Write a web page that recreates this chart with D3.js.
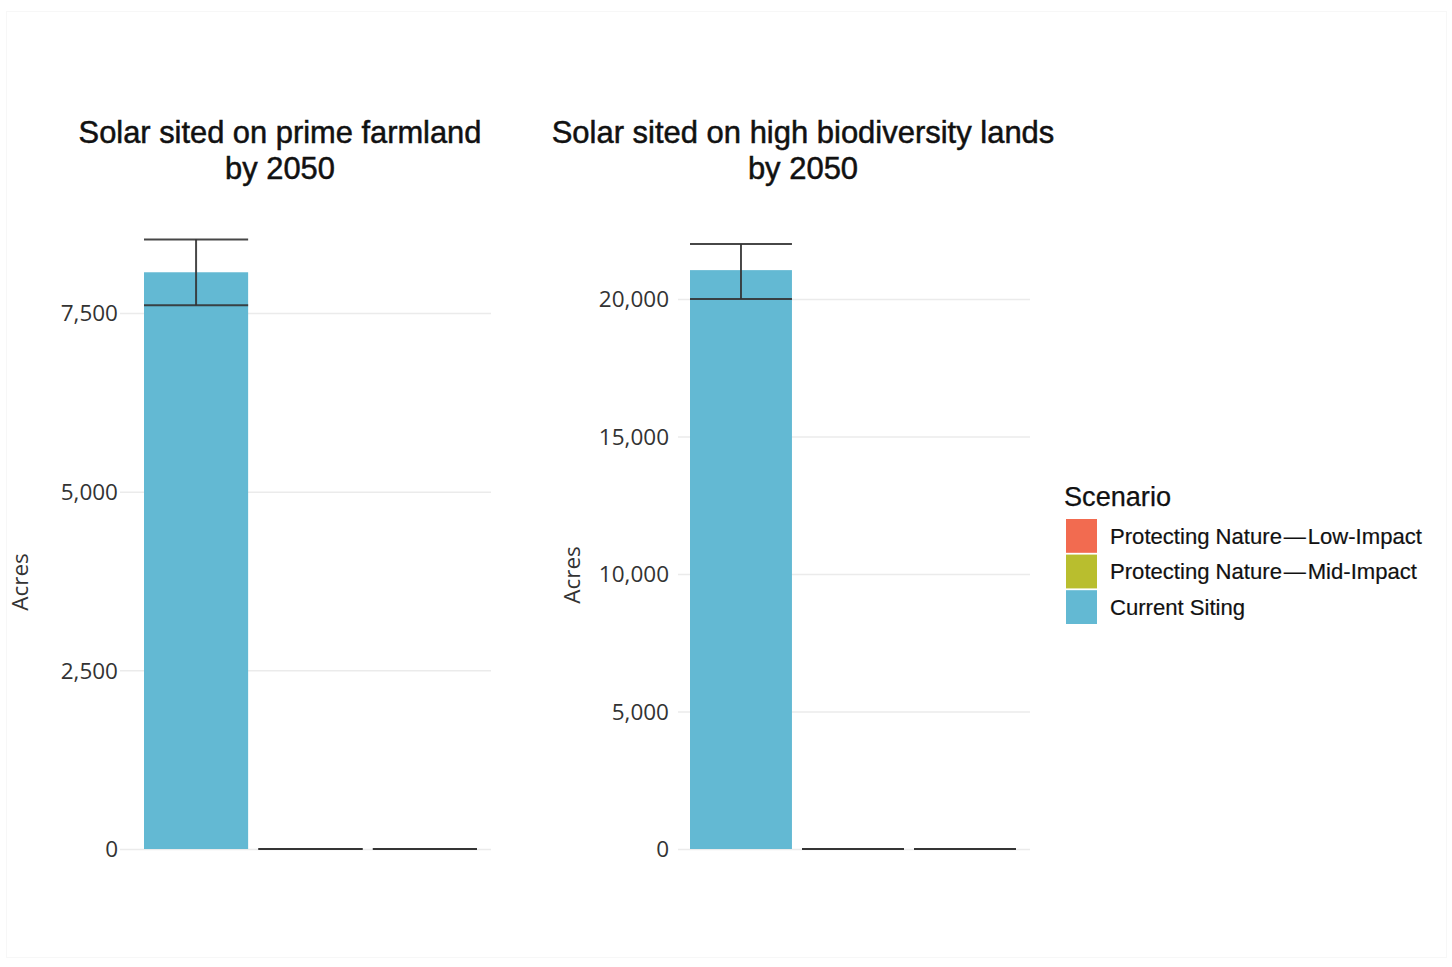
<!DOCTYPE html>
<html>
<head>
<meta charset="utf-8">
<script src="https://cdn.jsdelivr.net/npm/d3@7"></script>
<style>
  html, body { margin: 0; padding: 0; background: #fff; }
  svg { display: block; }
</style>
</head>
<body>
<svg id="chart" width="1452" height="967"></svg>
<script>
// ---- data ----
const scenarios = ["Current Siting", "Protecting Nature\u200A\u2014\u200ALow-Impact", "Protecting Nature\u200A\u2014\u200AMid-Impact"];
const legendOrder = ["Protecting Nature\u200A\u2014\u200ALow-Impact", "Protecting Nature\u200A\u2014\u200AMid-Impact", "Current Siting"];
const scenarioColors = ["#63b9d3", "#f26b50", "#b9be2e"];

const farmlandValues = [8070, 0, 0];
const farmlandLower = [7610, 0, 0];
const farmlandUpper = [8530, 0, 0];
const farmlandTicks = [0, 2500, 5000, 7500];

const biodivValues = [21050, 0, 0];
const biodivLower = [20000, 0, 0];
const biodivUpper = [22000, 0, 0];
const biodivTicks = [0, 5000, 10000, 15000, 20000];

const titles = [["Solar sited on prime farmland", "by 2050"], ["Solar sited on high biodiversity lands", "by 2050"]];
const yLabel = "Acres";
const legendTitle = "Scenario";

// ---- drawing ----
const svg = d3.select("#chart");
svg.append("rect").attr("x", 6.5).attr("y", 11.5).attr("width", 1440).attr("height", 946)
  .attr("fill", "none").attr("stroke", "#f7f7f7").attr("stroke-width", 1);

const color = d3.scaleOrdinal().domain(scenarios).range(scenarioColors);
const fmt = d3.format(",");
const sansFont = "'Liberation Sans', Arial, Helvetica, sans-serif";

const panels = [
  { values: farmlandValues, lower: farmlandLower, upper: farmlandUpper, ticks: farmlandTicks,
    yDomain: [0, 7500], yRange: [849, 313], gx0: 120, gx1: 491, band: [144, 477],
    labelX: 118, acresX: 20, acresY: 582, titleX: 280, titleW: 403, title: titles[0] },
  { values: biodivValues, lower: biodivLower, upper: biodivUpper, ticks: biodivTicks,
    yDomain: [0, 20000], yRange: [849, 299], gx0: 678, gx1: 1030, band: [690, 1016],
    labelX: 669, acresX: 572, acresY: 575, titleX: 803, titleW: 503, title: titles[1] }
];

panels.forEach(p => {
  const y = d3.scaleLinear().domain(p.yDomain).range(p.yRange);
  const x = d3.scaleBand().domain(scenarios).range(p.band).paddingInner(0.09).paddingOuter(0);
  const g = svg.append("g");

  // gridlines + tick labels via axis
  const axis = d3.axisLeft(y).tickValues(p.ticks).tickFormat(fmt)
    .tickSize(-(p.gx1 - p.gx0)).tickPadding(p.gx0 - p.labelX);
  const ax = g.append("g").attr("transform", `translate(${p.gx0},0)`).call(axis);
  ax.select(".domain").remove();
  ax.selectAll(".tick line").attr("stroke", "#ebebeb").attr("stroke-width", 1.5);
  ax.selectAll(".tick text").attr("fill", "#333").style("font-family", "'Open Sans', sans-serif")
    .style("font-size", "22.5px").attr("dy", "0.35em");

  // bars
  const data = scenarios.map((s, i) => ({ s, v: p.values[i], lo: p.lower[i], hi: p.upper[i] }));
  g.selectAll("rect.bar").data(data).join("rect").attr("class", "bar")
    .attr("x", d => x(d.s)).attr("width", x.bandwidth())
    .attr("y", d => y(d.v)).attr("height", d => y(0) - y(d.v))
    .attr("fill", d => color(d.s));

  // error bars
  const eb = g.selectAll("g.eb").data(data).join("g").attr("class", "eb");
  eb.append("line").attr("x1", d => x(d.s)).attr("x2", d => x(d.s) + x.bandwidth())
    .attr("y1", d => y(d.hi)).attr("y2", d => y(d.hi));
  eb.append("line").attr("x1", d => x(d.s)).attr("x2", d => x(d.s) + x.bandwidth())
    .attr("y1", d => y(d.lo)).attr("y2", d => y(d.lo));
  eb.append("line").attr("x1", d => x(d.s) + x.bandwidth() / 2).attr("x2", d => x(d.s) + x.bandwidth() / 2)
    .attr("y1", d => y(d.lo)).attr("y2", d => y(d.hi));
  eb.selectAll("line").attr("stroke", "#333").attr("stroke-width", 2).attr("stroke-opacity", 0.9);

  // y label
  g.append("text").attr("transform", `translate(${p.acresX},${p.acresY}) rotate(-90)`)
    .attr("text-anchor", "middle").attr("dy", "0.35em")
    .style("font-family", "'Open Sans', sans-serif").style("font-size", "22.5px").attr("fill", "#333")
    .text(yLabel);

  // title
  const t1 = g.append("text").attr("x", p.titleX).attr("y", 143).attr("text-anchor", "middle")
    .style("font-family", sansFont)
    .style("font-size", "26px").attr("fill", "#111").attr("stroke", "#111").attr("stroke-width", 0.5)
    .text(p.title[0]);
  const w = t1.node().getComputedTextLength();
  const fs = 26 * p.titleW / w;
  t1.style("font-size", fs + "px");
  g.append("text").attr("x", p.titleX).attr("y", 179).attr("text-anchor", "middle")
    .style("font-family", sansFont)
    .style("font-size", fs + "px").attr("fill", "#111").attr("stroke", "#111").attr("stroke-width", 0.5)
    .text(p.title[1]);
});

// legend
const lg = svg.append("g");
const lt = lg.append("text").attr("x", 1064).attr("y", 506)
  .style("font-family", sansFont).style("font-size", "25px")
  .attr("fill", "#111").attr("stroke", "#111").attr("stroke-width", 0.25).text(legendTitle);
lt.style("font-size", (25 * 107 / lt.node().getComputedTextLength()) + "px");
const ly = d3.scaleBand().domain(legendOrder).range([519, 624]).paddingInner(0.05);
const labels = [];
legendOrder.forEach(s => {
  lg.append("rect").attr("x", 1066).attr("y", ly(s)).attr("width", 31).attr("height", ly.bandwidth())
    .attr("fill", color(s));
  labels.push(lg.append("text").attr("x", 1110).attr("y", ly(s) + ly.bandwidth() / 2).attr("dy", "0.35em")
    .style("font-family", sansFont).style("font-size", "20px")
    .attr("fill", "#111").attr("stroke", "#111").attr("stroke-width", 0.2).text(s));
});
const lfs = 20 * 312 / labels[0].node().getComputedTextLength();
labels.forEach(t => t.style("font-size", lfs + "px"));
</script>
</body>
</html>
